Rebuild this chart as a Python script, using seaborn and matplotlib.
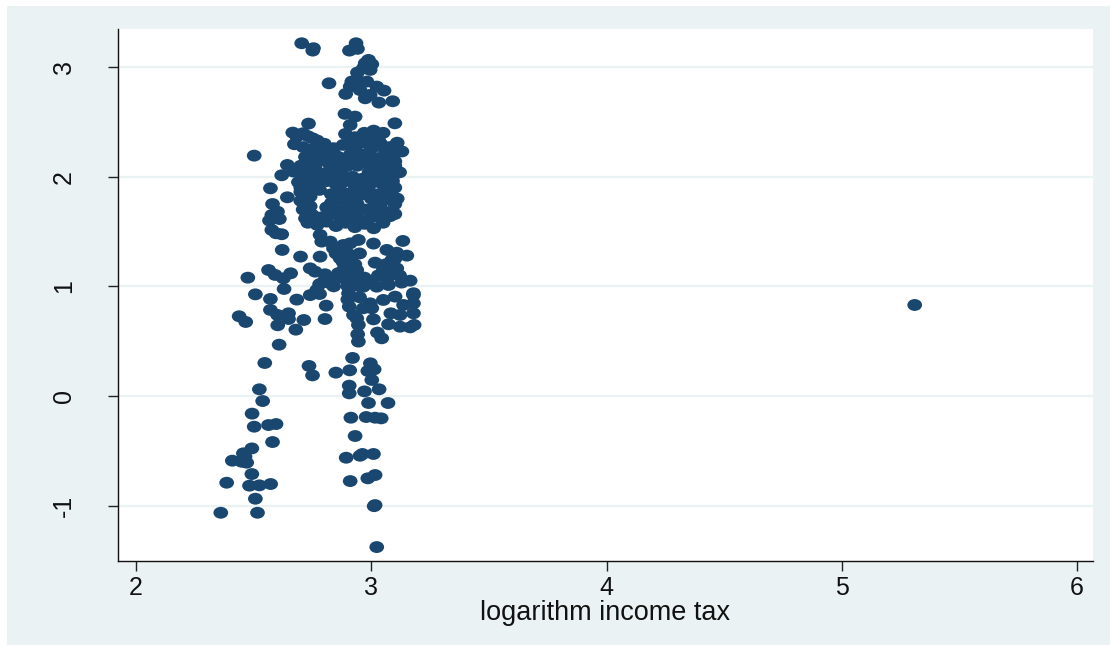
import matplotlib
matplotlib.use('Agg')
import matplotlib.pyplot as plt
import matplotlib.patches as patches
from matplotlib.path import Path
from matplotlib.transforms import Affine2D
import seaborn as sns
import pandas as pd

# lower half
x_low = [2.36, 2.516, 2.507, 2.385, 2.482, 2.524, 2.572, 2.492, 2.409, 2.456, 2.492, 2.47, 2.449, 2.463,
         2.58, 2.502, 2.563, 2.595, 2.493, 2.538, 2.524, 2.547, 2.608, 2.602, 2.679, 2.438, 2.466, 2.571,
         2.601, 2.648, 2.648, 2.713, 2.803, 2.808, 2.683, 2.571, 2.507, 2.735, 2.75, 2.849, 2.908, 2.92,
         2.996, 2.985, 3.012, 3.002, 2.906, 2.906, 2.971, 3.033, 2.988, 3.071, 2.913, 2.978, 3.016, 3.042,
         2.931, 2.893, 2.952, 2.962, 3.009, 2.91, 2.985, 3.016, 3.016, 3.012, 3.023,
         2.945, 2.942, 2.945, 2.938, 2.924, 2.906, 3.009, 3.044, 3.026, 3.083, 3.122, 3.179, 3.073, 3.122,
         3.165, 3.182, 3.179, 3.179, 3.137, 3.101, 3.051, 2.995, 2.966, 3.002, 5.31]
y_low = [-1.065, -1.065, -0.937, -0.791, -0.818, -0.815, -0.803, -0.712, -0.59, -0.523, -0.478, -0.608, -0.6, -0.554,
         -0.42, -0.28, -0.265, -0.256, -0.161, -0.046, 0.061, 0.301, 0.468, 0.645, 0.605, 0.727, 0.675, 0.785,
         0.739, 0.754, 0.702, 0.693, 0.702, 0.824, 0.879, 0.885, 0.927, 0.274, 0.188, 0.213, 0.234, 0.347,
         0.298, 0.228, 0.243, 0.146, 0.094, 0.024, 0.042, 0.061, -0.064, -0.064, -0.198, -0.192, -0.198, -0.204,
         -0.365, -0.563, -0.545, -0.529, -0.529, -0.776, -0.751, -0.721, -0.995, -1.005, -1.378,
         0.496, 0.563, 0.648, 0.708, 0.739, 0.815, 0.699, 0.526, 0.578, 0.754, 0.739, 0.754, 0.654, 0.632,
         0.626, 0.648, 0.845, 0.921, 0.83, 0.906, 0.876, 0.845, 0.8, 0.8, 0.83]

# upper half, outlying points around the dense block
x_up = [2.704, 2.754, 2.751, 2.935, 2.907, 2.941, 2.988, 2.974, 3.002, 2.995, 2.941, 2.966, 2.82, 2.917, 2.938,
        2.981, 2.91, 3.023, 3.054, 2.891, 2.952, 2.974, 2.995, 3.032, 3.091, 2.888, 2.931, 2.91, 2.733, 3.1,
        2.666, 2.709, 2.683, 2.673, 2.502, 2.643, 2.619, 2.669, 2.571, 2.643, 2.58, 2.601, 2.577, 2.567, 2.609,
        2.577, 2.595, 2.619, 2.621, 2.699, 2.563, 2.591, 2.626, 2.657, 2.475, 2.629, 2.782, 2.74, 2.761, 2.803,
        2.782, 2.789, 2.825, 2.839, 2.881, 2.945, 2.91, 3.009, 3.134, 3.066, 3.108, 3.151, 2.867, 2.917, 3.016,
        3.087, 2.881, 2.938, 2.91, 2.881, 2.924, 3.051, 3.108, 3.066, 3.023, 3.073, 3.129, 3.165, 2.966, 3.179,
        2.825, 2.825, 2.768, 2.74, 2.903]
y_up = [3.217, 3.172, 3.15, 3.217, 3.15, 3.166, 3.065, 3.035, 3.026, 2.974, 2.95, 2.99, 2.852, 2.868, 2.883,
        2.868, 2.822, 2.822, 2.785, 2.755, 2.79, 2.715, 2.746, 2.676, 2.688, 2.573, 2.548, 2.472, 2.484, 2.487,
        2.402, 2.396, 2.366, 2.296, 2.192, 2.107, 2.013, 2.047, 1.894, 1.812, 1.751, 1.681, 1.651, 1.6, 1.614,
        1.514, 1.484, 1.475, 1.332, 1.271, 1.149, 1.104, 1.073, 1.119, 1.079, 0.976, 1.271, 1.164, 1.134, 1.11,
        1.469, 1.408, 1.408, 1.347, 1.377, 1.423, 1.392, 1.39, 1.414, 1.332, 1.307, 1.28, 1.256, 1.271, 1.216,
        1.24, 1.149, 1.149, 1.073, 1.073, 1.012, 1.149, 1.164, 1.058, 0.997, 1.012, 1.034, 1.052, 0.997, 0.937,
        1.073, 1.028, 0.967, 0.92, 0.936]

# dense block, by rows
x_mid = [2.73, 2.77, 2.89, 2.93, 2.97, 3.01, 3.05, 3.03,
         2.71, 2.75, 2.79, 2.82, 2.88, 2.92, 2.96, 3.0, 3.04, 3.08, 3.11,
         2.72, 2.76, 2.8, 2.84, 2.87, 2.91, 2.95, 2.99, 3.03, 3.07, 3.13,
         2.7, 2.74, 2.79, 2.83, 2.87, 2.9, 2.98, 3.02, 3.06, 3.1,
         2.71, 2.73, 2.8, 2.84, 2.88, 2.92, 2.96, 3.0, 3.04, 3.08, 3.12,
         2.69, 2.73, 2.77, 2.81, 2.85, 2.89, 2.93, 2.97, 3.01, 3.05, 3.09,
         2.7, 2.74, 2.78, 2.83, 2.87, 2.91, 2.95, 2.99, 3.03, 3.07, 3.11,
         2.7, 2.73, 2.83, 2.86, 2.9, 2.94, 3.0, 3.04, 3.08, 3.1,
         2.71, 2.74, 2.81, 2.85, 2.89, 2.93, 3.0, 3.03, 3.06, 3.1,
         2.72, 2.75, 2.79, 2.83, 2.87, 2.91, 2.95, 3.0, 3.04, 3.08,
         2.73, 2.77, 2.81, 2.85, 2.89, 2.93, 2.97, 3.01, 3.05]
y_mid = [2.37, 2.33, 2.39, 2.36, 2.4, 2.42, 2.4, 2.34,
         2.27, 2.25, 2.28, 2.24, 2.29, 2.27, 2.31, 2.26, 2.3, 2.27, 2.31,
         2.18, 2.2, 2.17, 2.21, 2.16, 2.2, 2.18, 2.22, 2.17, 2.2, 2.23,
         2.1, 2.13, 2.15, 2.09, 2.12, 2.1, 2.13, 2.09, 2.12, 2.14,
         2.02, 2.05, 2.03, 2.05, 2.01, 2.0, 1.98, 2.04, 2.01, 2.05, 2.04,
         1.95, 1.97, 1.94, 1.96, 1.93, 1.96, 1.92, 1.9, 1.95, 1.93, 1.96,
         1.86, 1.89, 1.88, 1.84, 1.87, 1.85, 1.83, 1.87, 1.84, 1.87, 1.8,
         1.78, 1.8, 1.76, 1.79, 1.77, 1.75, 1.8, 1.76, 1.79, 1.75,
         1.7, 1.73, 1.72, 1.69, 1.71, 1.68, 1.7, 1.72, 1.68, 1.66,
         1.62, 1.65, 1.63, 1.66, 1.62, 1.64, 1.61, 1.63, 1.66, 1.64,
         1.58, 1.56, 1.59, 1.55, 1.58, 1.54, 1.57, 1.53, 1.58]

# fill-in points: top of the block, then the 1.0-1.4 band
x_fill = [2.75, 2.8, 2.84, 2.78, 2.72, 2.76, 2.82, 2.86, 2.9, 2.94, 2.98, 3.02, 3.06, 3.09, 3.1, 3.06, 3.02,
          2.98, 2.94, 2.9, 2.94, 2.86, 2.82, 2.76, 2.72, 2.74, 2.7, 2.85, 2.99, 3.09, 3.1, 3.08, 2.98, 2.96,
          2.85, 2.9, 2.95, 2.88, 2.93, 2.9, 2.95, 2.92, 2.97, 2.86, 3.03, 3.06, 3.1, 3.08, 2.84, 2.8, 2.78,
          3.0, 3.12, 2.95, 2.9, 2.78]
y_fill = [2.35, 2.3, 2.26, 2.2, 2.13, 2.08, 2.12, 2.18, 2.3, 2.33, 2.35, 2.28, 2.24, 2.2, 2.1, 2.05, 2.15,
          2.2, 2.22, 2.15, 2.1, 2.05, 2.0, 2.0, 1.93, 1.82, 1.9, 1.98, 2.04, 2.0, 1.9, 1.82, 1.7, 1.95,
          1.3, 1.3, 1.3, 1.22, 1.2, 1.0, 1.0, 1.1, 1.08, 1.12, 1.1, 1.2, 1.25, 1.1, 1.0, 1.05, 1.02,
          1.05, 1.1, 0.9, 0.88, 0.93]

x_ticks = [2, 3, 4, 5, 6]
y_ticks = [-1, 0, 1, 2, 3]
x_title = 'logarithm income tax'

df = pd.DataFrame({'tax': x_low + x_up + x_mid + x_fill, 'y': y_low + y_up + y_mid + y_fill})

sns.set_style('white')
plt.rcParams['font.family'] = ['Liberation Sans', 'DejaVu Sans']

W, H = 1116, 646
fig = plt.figure(figsize=(W / 100, H / 100), dpi=100)
fig.patch.set_facecolor('white')
fig.add_artist(patches.Rectangle((7 / W, 1 - 645 / H), 1103 / W, 639 / H,
                                 transform=fig.transFigure, facecolor='#eaf2f3', edgecolor='none', zorder=-1))
ax = fig.add_axes([118 / W, 1 - 561 / H, 975 / W, 532 / H])
ax.set_facecolor('white')

# stata picture was stretched, markers come out as wide ovals
oval = Path.unit_circle().transformed(Affine2D().scale(1.24, 1))
sns.scatterplot(data=df, x='tax', y='y', marker=oval, s=112, color='#1a476f', edgecolor='none',
                linewidth=0, ax=ax, zorder=3, clip_on=False)

ax.set_xlim(1.923, 6.068)
ax.set_ylim(-1.505, 3.347)
ax.set_xticks(x_ticks)
ax.set_yticks(y_ticks)
ax.set_yticklabels([str(v) for v in y_ticks], rotation=90, va='center')
ax.tick_params(axis='both', length=7.5, width=1, color='#222222', labelsize=18, labelcolor='#111111', left=True, bottom=True)
ax.tick_params(axis='x', pad=3)
ax.tick_params(axis='y', pad=23)
ax.set_xlabel(x_title, fontsize=19.5, color='#111111', labelpad=0)
ax.set_ylabel('')
ax.grid(axis='y', color='#eaf2f3', linewidth=1.6)
ax.set_axisbelow(True)
sns.despine(ax=ax)
for side in ['left', 'bottom']:
    ax.spines[side].set_color('#111111')
    ax.spines[side].set_linewidth(1)

fig.savefig('out.png', dpi=100)
